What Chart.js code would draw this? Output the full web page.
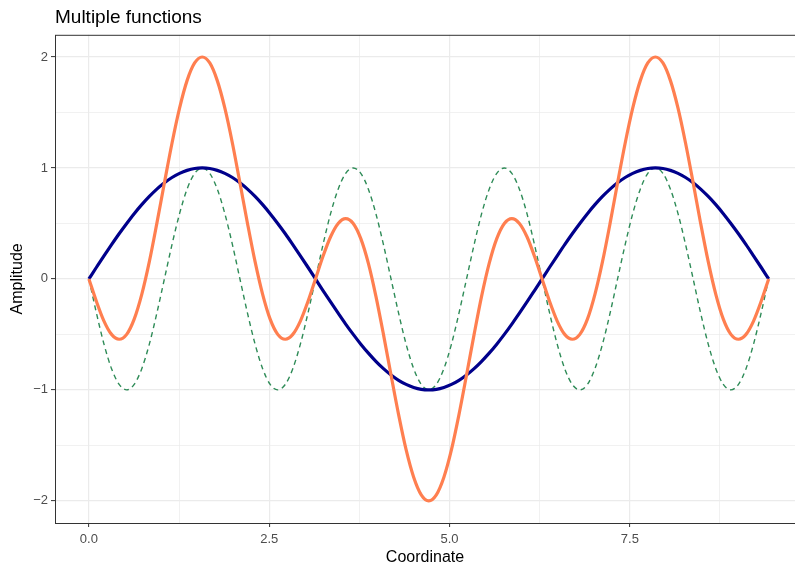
<!DOCTYPE html>
<html>
<head>
<meta charset="utf-8">
<script src="https://cdn.jsdelivr.net/npm/chart.js@4"></script>
<style>
  html, body { margin: 0; padding: 0; background: #fff; }
  #wrap { width: 795px; height: 567px; }
</style>
</head>
<body>
<div id="wrap"><canvas id="chart" width="795" height="567"></canvas></div>
<script>
// coordenadas (x)
const coordenadas = [
  0, 0.105, 0.209, 0.314, 0.419, 0.524, 0.628, 0.733, 0.838, 0.942,
  1.047, 1.152, 1.257, 1.361, 1.466, 1.571, 1.676, 1.780, 1.885, 1.990,
  2.094, 2.199, 2.304, 2.409, 2.513, 2.618, 2.723, 2.827, 2.932, 3.037,
  3.142, 3.246, 3.351, 3.456, 3.560, 3.665, 3.770, 3.875, 3.979, 4.084,
  4.189, 4.294, 4.398, 4.503, 4.608, 4.712, 4.817, 4.922, 5.027, 5.131,
  5.236, 5.341, 5.445, 5.550, 5.655, 5.760, 5.864, 5.969, 6.074, 6.178,
  6.283, 6.388, 6.493, 6.597, 6.702, 6.807, 6.912, 7.016, 7.121, 7.226,
  7.330, 7.435, 7.540, 7.645, 7.749, 7.854, 7.959, 8.063, 8.168, 8.273,
  8.378, 8.482, 8.587, 8.692, 8.796, 8.901, 9.006, 9.111, 9.215, 9.320,
  9.425
];

// curva azul
const serieAzul = [
  0, 0.105, 0.208, 0.309, 0.407, 0.500, 0.588, 0.669, 0.743, 0.809,
  0.866, 0.914, 0.951, 0.978, 0.995, 1, 0.995, 0.978, 0.951, 0.914,
  0.866, 0.809, 0.743, 0.669, 0.588, 0.500, 0.407, 0.309, 0.208, 0.105,
  0, -0.105, -0.208, -0.309, -0.407, -0.500, -0.588, -0.669, -0.743, -0.809,
  -0.866, -0.914, -0.951, -0.978, -0.995, -1, -0.995, -0.978, -0.951, -0.914,
  -0.866, -0.809, -0.743, -0.669, -0.588, -0.500, -0.407, -0.309, -0.208, -0.105,
  0, 0.105, 0.208, 0.309, 0.407, 0.500, 0.588, 0.669, 0.743, 0.809,
  0.866, 0.914, 0.951, 0.978, 0.995, 1, 0.995, 0.978, 0.951, 0.914,
  0.866, 0.809, 0.743, 0.669, 0.588, 0.500, 0.407, 0.309, 0.208, 0.105,
  0
];

// curva verde (punteada)
const serieVerde = [
  0, -0.309, -0.588, -0.809, -0.951, -1, -0.951, -0.809, -0.588, -0.309,
  0, 0.309, 0.588, 0.809, 0.951, 1, 0.951, 0.809, 0.588, 0.309,
  0, -0.309, -0.588, -0.809, -0.951, -1, -0.951, -0.809, -0.588, -0.309,
  0, 0.309, 0.588, 0.809, 0.951, 1, 0.951, 0.809, 0.588, 0.309,
  0, -0.309, -0.588, -0.809, -0.951, -1, -0.951, -0.809, -0.588, -0.309,
  0, 0.309, 0.588, 0.809, 0.951, 1, 0.951, 0.809, 0.588, 0.309,
  0, -0.309, -0.588, -0.809, -0.951, -1, -0.951, -0.809, -0.588, -0.309,
  0, 0.309, 0.588, 0.809, 0.951, 1, 0.951, 0.809, 0.588, 0.309,
  0, -0.309, -0.588, -0.809, -0.951, -1, -0.951, -0.809, -0.588, -0.309,
  0
];

// curva naranja
const serieNaranja = [
  0, -0.204, -0.380, -0.500, -0.544, -0.500, -0.363, -0.140, 0.155, 0.500,
  0.866, 1.223, 1.539, 1.787, 1.946, 2, 1.946, 1.787, 1.539, 1.223,
  0.866, 0.500, 0.155, -0.140, -0.363, -0.500, -0.544, -0.500, -0.380, -0.204,
  0, 0.204, 0.380, 0.500, 0.544, 0.500, 0.363, 0.140, -0.155, -0.500,
  -0.866, -1.223, -1.539, -1.787, -1.946, -2, -1.946, -1.787, -1.539, -1.223,
  -0.866, -0.500, -0.155, 0.140, 0.363, 0.500, 0.544, 0.500, 0.380, 0.204,
  0, -0.204, -0.380, -0.500, -0.544, -0.500, -0.363, -0.140, 0.155, 0.500,
  0.866, 1.223, 1.539, 1.787, 1.946, 2, 1.946, 1.787, 1.539, 1.223,
  0.866, 0.500, 0.155, -0.140, -0.363, -0.500, -0.544, -0.500, -0.380, -0.204,
  0
];

// marcas de los ejes
const ticksX = [0, 2.5, 5, 7.5];
const ticksXMenores = [1.25, 3.75, 6.25, 8.75];
const ticksY = [-2, -1, 0, 1, 2];
const ticksYMenores = [-1.5, -0.5, 0.5, 1.5];

const puntos = (ys) => coordenadas.map((x, i) => ({ x: x, y: ys[i] }));
const esMayor = (lista, v) => lista.some((t) => Math.abs(t - v) < 1e-9);

// borde del panel (estilo ggplot)
const bordePanel = {
  id: "bordePanel",
  afterDraw(chart) {
    const a = chart.chartArea;
    const ctx = chart.ctx;
    ctx.save();
    ctx.strokeStyle = "#333333";
    ctx.lineWidth = 1;
    ctx.strokeRect(a.left + 0.5, a.top + 0.5, a.right - a.left + 10, a.bottom - a.top);
    ctx.restore();
  },
};

const fuente = "'Liberation Sans', Arial, sans-serif";

new Chart(document.getElementById("chart"), {
  type: "line",
  data: {
    datasets: [
      {
        label: "naranja",
        data: puntos(serieNaranja),
        borderColor: "#FF7F50",
        borderWidth: 3.2,
        pointRadius: 0,
        cubicInterpolationMode: "monotone",
        fill: false,
      },
      {
        label: "azul",
        data: puntos(serieAzul),
        borderColor: "#00008B",
        borderWidth: 3.2,
        pointRadius: 0,
        cubicInterpolationMode: "monotone",
        fill: false,
      },
      {
        label: "verde",
        data: puntos(serieVerde),
        borderColor: "#2E8B57",
        borderWidth: 1.4,
        borderDash: [5, 4],
        pointRadius: 0,
        cubicInterpolationMode: "monotone",
        fill: false,
      },
    ],
  },
  options: {
    responsive: false,
    animation: false,
    layout: { padding: { left: 0, right: 0, top: 0, bottom: 0 } },
    plugins: {
      legend: { display: false },
      tooltip: { enabled: false },
      title: {
        display: true,
        text: "Multiple functions",
        align: "start",
        fullSize: false,
        color: "#000000",
        font: { family: fuente, size: 19, weight: "normal" },
        padding: { top: 6, bottom: 6 },
      },
    },
    scales: {
      x: {
        type: "linear",
        min: -0.47,
        max: 9.79,
        afterBuildTicks: (scale) => {
          scale.ticks = ticksX.concat(ticksXMenores).sort((a, b) => a - b).map((v) => ({ value: v }));
        },
        afterFit: (scale) => { scale.height = 44; },
        ticks: {
          autoSkip: false,
          maxRotation: 0,
          color: "#4D4D4D",
          font: { family: fuente, size: 13 },
          padding: 5,
          callback: (v) => (esMayor(ticksX, v) ? v.toFixed(1) : ""),
        },
        grid: {
          color: "#EBEBEB",
          lineWidth: (c) => (c.tick && esMayor(ticksX, c.tick.value) ? 1.2 : 0.7),
          tickColor: (c) => (c.tick && esMayor(ticksX, c.tick.value) ? "#333333" : "rgba(0,0,0,0)"),
          tickLength: 4,
          tickWidth: 1,
        },
        border: { display: false },
        title: {
          display: true,
          text: "Coordinate",
          color: "#000000",
          font: { family: fuente, size: 16 },
          padding: { top: 0, bottom: 0 },
        },
      },
      y: {
        type: "linear",
        min: -2.2,
        max: 2.2,
        afterBuildTicks: (scale) => {
          scale.ticks = ticksY.concat(ticksYMenores).sort((a, b) => a - b).map((v) => ({ value: v }));
        },
        afterFit: (scale) => { scale.width = 55; },
        ticks: {
          autoSkip: false,
          color: "#4D4D4D",
          font: { family: fuente, size: 13 },
          padding: 3,
          callback: (v) => (esMayor(ticksY, v) ? String(v).replace("-", "\u2212") : ""),
        },
        grid: {
          color: "#EBEBEB",
          lineWidth: (c) => (c.tick && esMayor(ticksY, c.tick.value) ? 1.2 : 0.7),
          tickColor: (c) => (c.tick && esMayor(ticksY, c.tick.value) ? "#333333" : "rgba(0,0,0,0)"),
          tickLength: 4,
          tickWidth: 1,
        },
        border: { display: false },
        title: {
          display: true,
          text: "Amplitude",
          color: "#000000",
          font: { family: fuente, size: 16 },
          padding: { top: 8, bottom: 0 },
        },
      },
    },
  },
  plugins: [bordePanel],
});
</script>
</body>
</html>
